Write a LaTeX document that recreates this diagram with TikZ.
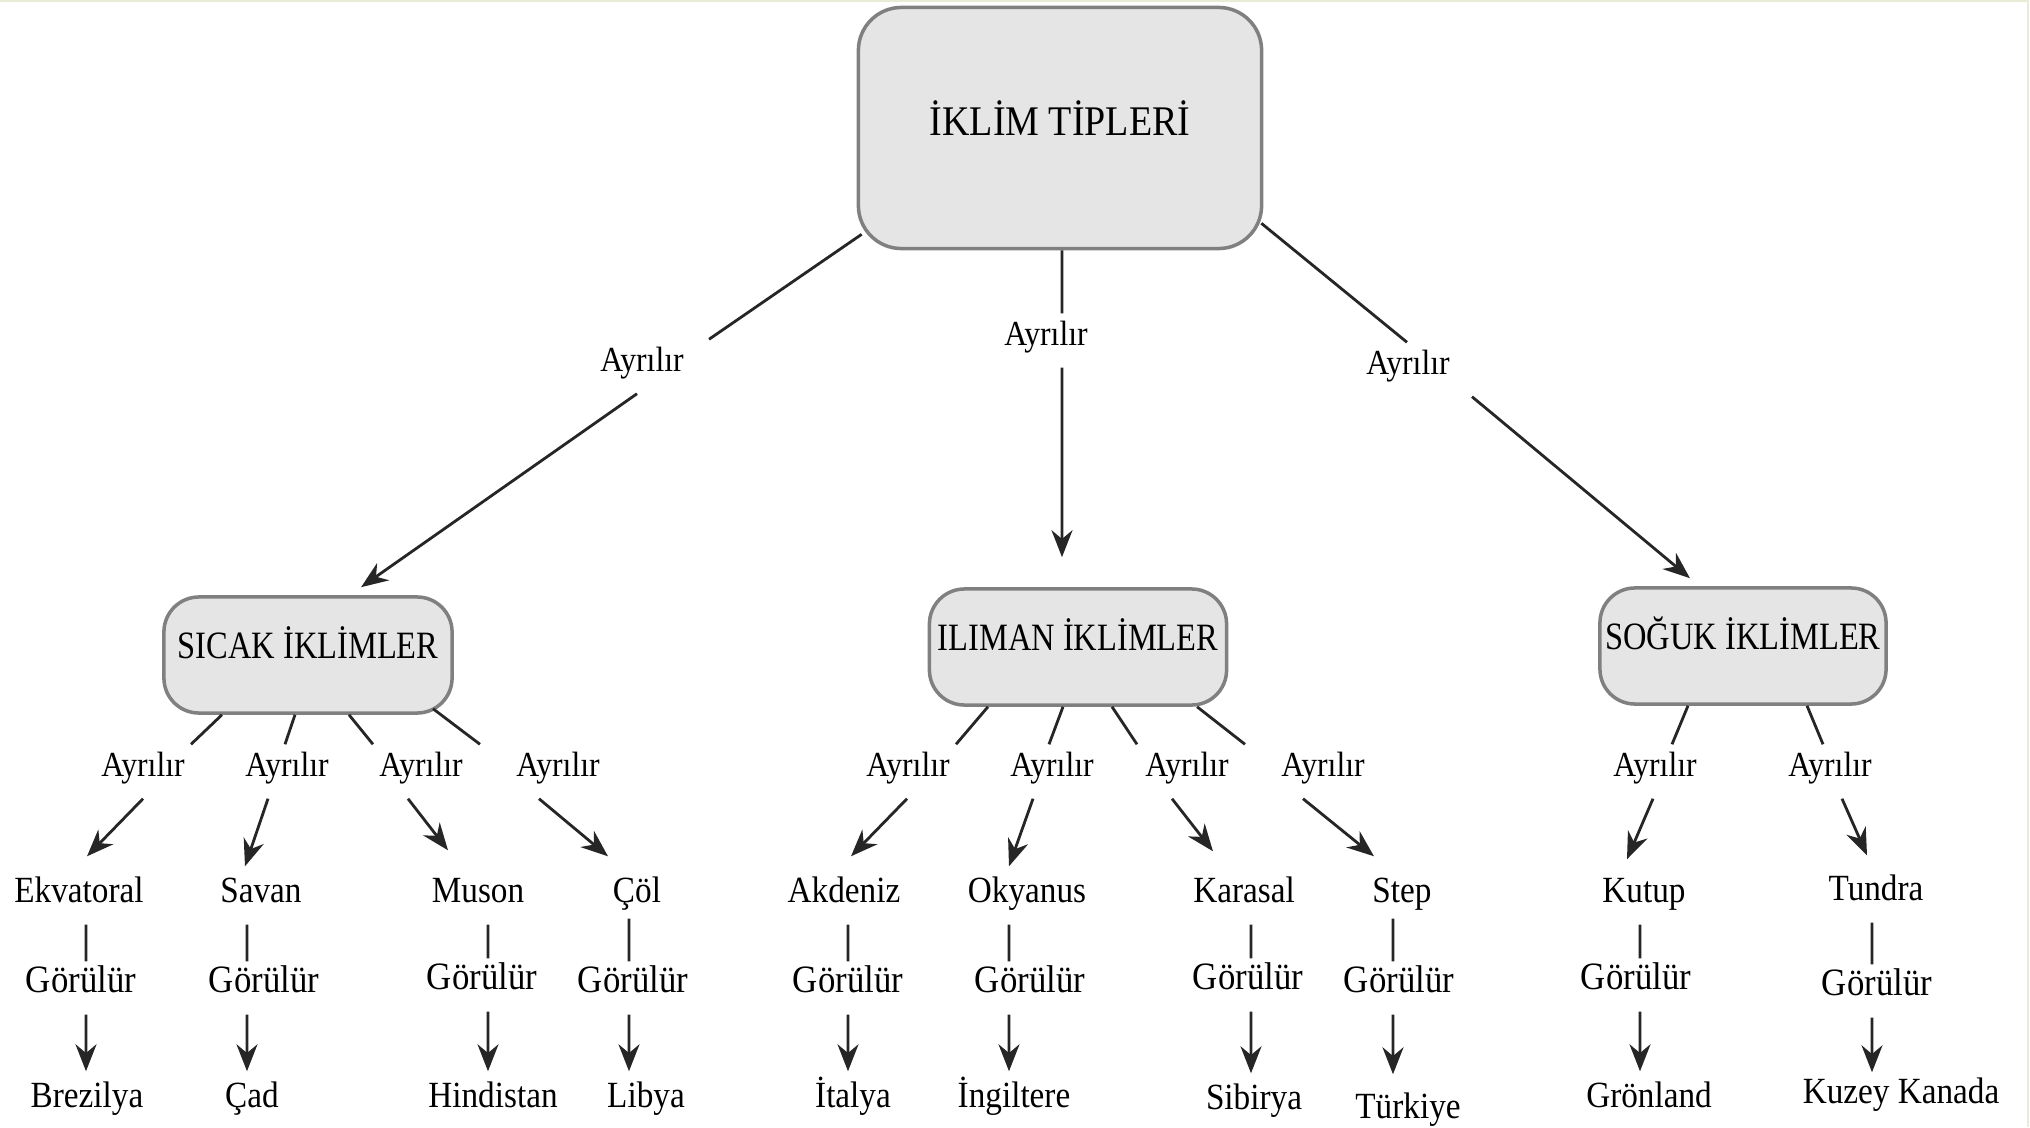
\documentclass[tikz,border=0pt]{standalone}
\usepackage{fontspec}
\setmainfont{Liberation Serif}[FakeStretch=0.9]
\newfontfamily\boxfont{Liberation Serif}[FakeStretch=0.84]
\usetikzlibrary{arrows.meta}
\definecolor{edgecol}{RGB}{232,236,214}

\tikzset{
	mainbox/.style={draw=black!50, line width=1pt, fill=black!10, rounded corners=0.43cm,
		minimum width=4.03cm, minimum height=2.41cm, inner sep=0pt,
		text height=0.34cm, text depth=0.2cm, font=\fontsize{12pt}{12pt}\selectfont},
	groupbox/.style={draw=black!50, line width=1pt, fill=black!10, rounded corners=0.35cm,
		minimum height=1.16cm, inner sep=0pt,
		text height=0.32cm, text depth=0.25cm, font=\boxfont\fontsize{11pt}{11pt}\selectfont},
	linkword/.style={anchor=base, inner sep=0pt, text height=0.31cm, text depth=0.22cm,
		font=\fontsize{10pt}{10pt}\selectfont},
	climate/.style={anchor=base, inner sep=0pt, text height=0.45cm, text depth=0.22cm,
		font=\fontsize{10.5pt}{10.5pt}\selectfont},
	seenword/.style={anchor=base, inner sep=0pt, text height=0.30cm, text depth=0.22cm,
		font=\fontsize{11pt}{11pt}\selectfont},
	place/.style={anchor=base, inner sep=0pt, text height=0.35cm, text depth=0.08cm,
		font=\fontsize{10.5pt}{10.5pt}\selectfont},
	link/.style={line width=0.8pt, draw=black!85},
	arr/.style={link, -{Stealth[length=0.27cm, width=0.21cm]}}
}

\begin{document}
\begin{tikzpicture}[x=0.01cm,y=-0.01cm]
	%%%%% START %%%%%
	\useasboundingbox (0,0) rectangle (2030,1127);
	\draw[edgecol, line width=0.02cm] (0,1) -- (2028,1) -- (2028,1127);
	
	% top
	\node[mainbox] (top) at (1060,128) {İKLİM TİPLERİ};
	\node[linkword] (ayL) at (642,371) {Ayrılır};
	\node[linkword] (ayM) at (1046,345) {Ayrılır};
	\node[linkword] (ayR) at (1408,374) {Ayrılır};
	
	% groups
	\node[groupbox, minimum width=2.88cm] (sicak) at (308,655) {SICAK İKLİMLER};
	\node[groupbox, minimum width=2.97cm] (iliman) at (1078,647) {ILIMAN İKLİMLER};
	\node[groupbox, minimum width=2.86cm] (soguk) at (1743,646) {SOĞUK İKLİMLER};
	
	\draw[link] ([xshift=0.05cm,yshift=0.16cm]top.south west) -- ([xshift=0.67cm]ayL.north);
	\draw[arr] ([xshift=-0.05cm]ayL.south) -- ([xshift=0.53cm,yshift=0.08cm]sicak.north);
	\draw[link] ([xshift=0.02cm]top.south) -- ([xshift=0.16cm]ayM.north);
	\draw[arr] ([xshift=0.16cm]ayM.south) -- ([xshift=-0.16cm,yshift=0.3cm]iliman.north);
	\draw[link] ([xshift=-0.02cm,yshift=0.27cm]top.south east) -- ([xshift=-0.01cm]ayR.north);
	\draw[arr] ([xshift=0.64cm]ayR.south) -- ([xshift=-0.53cm,yshift=0.08cm]soguk.north);
	
	% second row of Ayrılır
	\node[linkword] (as1) at (143,776) {Ayrılır};
	\node[linkword] (as2) at (287,776) {Ayrılır};
	\node[linkword] (as3) at (421,776) {Ayrılır};
	\node[linkword] (as4) at (558,776) {Ayrılır};
	\node[linkword] (ai1) at (908,776) {Ayrılır};
	\node[linkword] (ai2) at (1052,776) {Ayrılır};
	\node[linkword] (ai3) at (1187,776) {Ayrılır};
	\node[linkword] (ai4) at (1323,776) {Ayrılır};
	\node[linkword] (ag1) at (1655,776) {Ayrılır};
	\node[linkword] (ag2) at (1830,776) {Ayrılır};
	
	\draw[link] ([xshift=-0.86cm]sicak.south) -- ([xshift=0.48cm]as1.north);
	\draw[link] ([xshift=-0.13cm]sicak.south) -- ([xshift=-0.02cm]as2.north);
	\draw[link] ([xshift=0.41cm]sicak.south) -- ([xshift=-0.48cm]as3.north);
	\draw[link] ([xshift=1.25cm,yshift=0.06cm]sicak.south) -- ([xshift=-0.78cm]as4.north);
	\draw[link] ([xshift=-0.90cm]iliman.south) -- ([xshift=0.48cm]ai1.north);
	\draw[link] ([xshift=-0.15cm]iliman.south) -- ([xshift=-0.03cm]ai2.north);
	\draw[link] ([xshift=0.34cm]iliman.south) -- ([xshift=-0.50cm]ai3.north);
	\draw[link] ([xshift=1.19cm]iliman.south) -- ([xshift=-0.78cm]ai4.north);
	\draw[link] ([xshift=-0.55cm]soguk.south) -- ([xshift=0.17cm]ag1.north);
	\draw[link] ([xshift=0.64cm]soguk.south) -- ([xshift=-0.07cm]ag2.north);
	
	% climates
	\node[climate] (ekvatoral) at (79,902) {Ekvatoral};
	\node[climate] (savan) at (261,902) {Savan};
	\node[climate] (muson) at (478,902) {Muson};
	\node[climate] (col) at (637,902) {Çöl};
	\node[climate] (akdeniz) at (844,902) {Akdeniz};
	\node[climate] (okyanus) at (1027,902) {Okyanus};
	\node[climate] (karasal) at (1244,902) {Karasal};
	\node[climate] (steppe) at (1402,902) {Step};
	\node[climate] (kutup) at (1644,902) {Kutup};
	\node[climate] (tundra) at (1876,900) {Tundra};
	
	\draw[arr] (as1.south) -- ([xshift=0.08cm]ekvatoral.north);
	\draw[arr] ([xshift=-0.19cm]as2.south) -- ([xshift=-0.16cm,yshift=-0.1cm]savan.north);
	\draw[arr] ([xshift=-0.13cm]as3.south) -- ([xshift=-0.30cm,yshift=0.06cm]muson.north);
	\draw[arr] ([xshift=-0.19cm]as4.south) -- ([xshift=-0.29cm]col.north);
	\draw[arr] ([xshift=-0.01cm]ai1.south) -- ([xshift=0.07cm]akdeniz.north);
	\draw[arr] ([xshift=-0.19cm]ai2.south) -- ([xshift=-0.18cm,yshift=-0.1cm]okyanus.north);
	\draw[arr] ([xshift=-0.15cm]ai3.south) -- ([xshift=-0.31cm,yshift=0.05cm]karasal.north);
	\draw[arr] ([xshift=-0.20cm]ai4.south) -- ([xshift=-0.28cm]steppe.north);
	\draw[arr] ([xshift=-0.02cm]ag1.south) -- ([xshift=-0.17cm,yshift=-0.03cm]kutup.north);
	\draw[arr] ([xshift=0.12cm]ag2.south) -- ([xshift=-0.09cm,yshift=-0.01cm]tundra.north);
	
	% Görülür
	\node[seenword] (seen1) at (81,992) {Görülür};
	\node[seenword] (seen2) at (264,992) {Görülür};
	\node[seenword] (seen3) at (482,989) {Görülür};
	\node[seenword] (seen4) at (633,992) {Görülür};
	\node[seenword] (seen5) at (848,992) {Görülür};
	\node[seenword] (seen6) at (1030,992) {Görülür};
	\node[seenword] (seen7) at (1248,989) {Görülür};
	\node[seenword] (seen8) at (1399,992) {Görülür};
	\node[seenword] (seen9) at (1636,989) {Görülür};
	\node[seenword] (seen10) at (1877,995) {Görülür};
	
	% places
	\node[place] (brezilya) at (87,1107) {Brezilya};
	\node[place] (cad) at (252,1107) {Çad};
	\node[place] (hindistan) at (493,1107) {Hindistan};
	\node[place] (libya) at (646,1107) {Libya};
	\node[place] (italya) at (853,1107) {İtalya};
	\node[place] (ingiltere) at (1014,1107) {İngiltere};
	\node[place] (sibirya) at (1254,1109) {Sibirya};
	\node[place] (turkiye) at (1408,1118) {Türkiye};
	\node[place] (gronland) at (1649,1107) {Grönland};
	\node[place] (kanada) at (1901,1103) {Kuzey Kanada};
	
	\draw[link] ([xshift=0.07cm]ekvatoral.south) -- ([xshift=0.05cm]seen1.north);
	\draw[arr] ([xshift=0.05cm]seen1.south) -- ([xshift=-0.01cm]brezilya.north);
	\draw[link] ([xshift=-0.14cm]savan.south) -- ([xshift=-0.17cm]seen2.north);
	\draw[arr] ([xshift=-0.17cm]seen2.south) -- ([xshift=-0.05cm]cad.north);
	\draw[link] ([xshift=0.10cm]muson.south) -- ([xshift=0.06cm]seen3.north);
	\draw[arr] ([xshift=0.06cm]seen3.south) -- ([xshift=-0.05cm]hindistan.north);
	\draw[link] ([xshift=-0.08cm,yshift=0.06cm]col.south) -- ([xshift=-0.04cm]seen4.north);
	\draw[arr] ([xshift=-0.04cm]seen4.south) -- ([xshift=-0.17cm]libya.north);
	\draw[link] ([xshift=0.04cm]akdeniz.south) -- (seen5.north);
	\draw[arr] (seen5.south) -- ([xshift=-0.05cm]italya.north);
	\draw[link] ([xshift=-0.18cm]okyanus.south) -- ([xshift=-0.21cm]seen6.north);
	\draw[arr] ([xshift=-0.21cm]seen6.south) -- ([xshift=-0.05cm]ingiltere.north);
	\draw[link] ([xshift=0.07cm]karasal.south) -- ([xshift=0.03cm]seen7.north);
	\draw[arr] ([xshift=0.03cm]seen7.south) -- ([xshift=-0.03cm]sibirya.north);
	\draw[link] ([xshift=-0.09cm,yshift=0.06cm]steppe.south) -- ([xshift=-0.06cm]seen8.north);
	\draw[arr] ([xshift=-0.06cm]seen8.south) -- ([xshift=-0.15cm,yshift=0.08cm]turkiye.north);
	\draw[link] ([xshift=-0.04cm]kutup.south) -- ([xshift=0.04cm]seen9.north);
	\draw[arr] ([xshift=0.04cm]seen9.south) -- ([xshift=-0.09cm]gronland.north);
	\draw[link] ([xshift=-0.04cm]tundra.south) -- ([xshift=-0.05cm]seen10.north);
	\draw[arr] ([xshift=-0.05cm]seen10.south) -- ([xshift=-0.29cm,yshift=-0.05cm]kanada.north);
	%%%%% END %%%%%
\end{tikzpicture}
\end{document}
